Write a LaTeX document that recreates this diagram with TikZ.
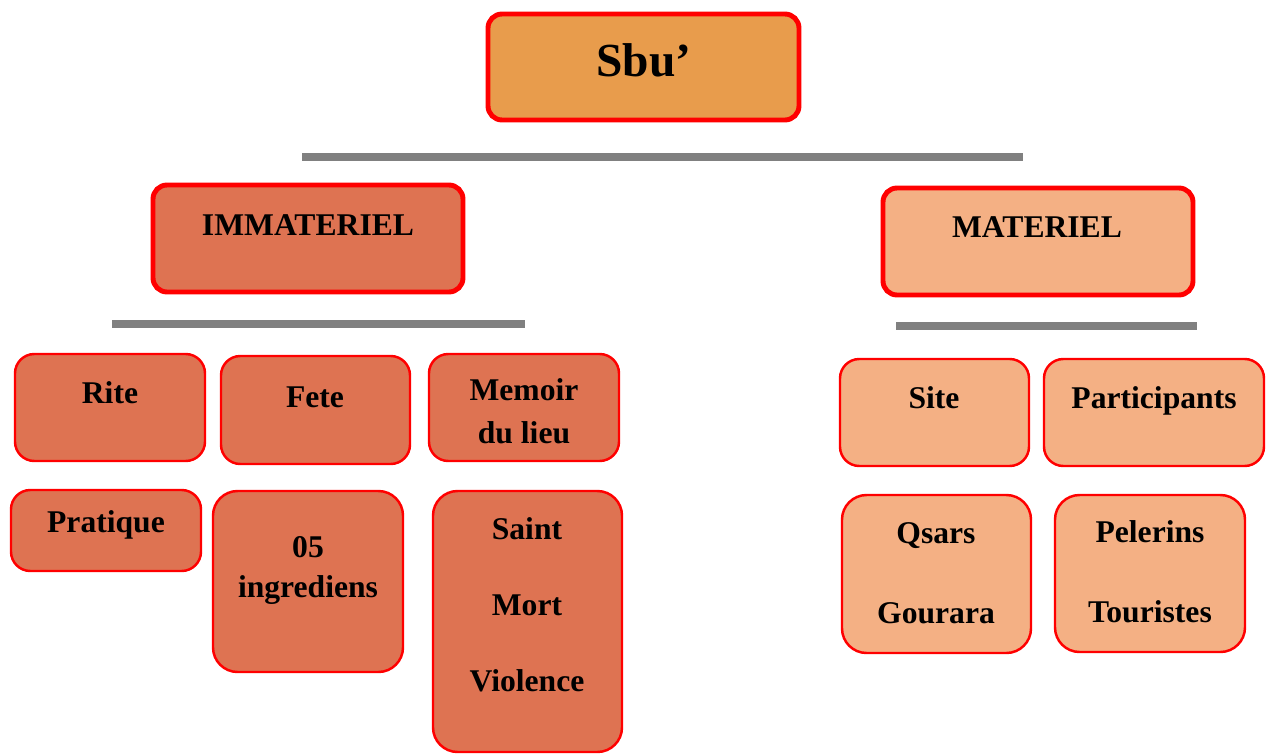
\documentclass[tikz,border=0pt]{standalone}
\usepackage{fontspec}
\setmainfont{Liberation Serif}
\usetikzlibrary{fit,positioning}
\definecolor{TopOrange}{HTML}{E89C4C}
\definecolor{DarkCoral}{HTML}{DE7352}
\definecolor{LightPeach}{HTML}{F4B084}
\definecolor{BorderRed}{HTML}{FF0000}
\definecolor{BarGray}{HTML}{808080}
\tikzset{
  % Base box
  BX/.style={rectangle,draw=BorderRed,inner sep=0pt,
             rounded corners=11pt,line width=1.4pt},
  % Heading box
  HB/.style={BX,line width=2.8pt,rounded corners=8pt},
  % Colour variants
  nO/.style={HB,fill=TopOrange},
  nD/.style={HB,fill=DarkCoral},
  nL/.style={HB,fill=LightPeach},
  bD/.style={BX,fill=DarkCoral},
  bL/.style={BX,fill=LightPeach},
  % Text style (base = baseline of the last line)
  TX/.style={anchor=base,align=center,inner sep=0pt,
             font=\fontsize{18}{22}\selectfont\bfseries},
  % Separator bar
  bar/.style={line width=4pt,draw=BarGray}
}
\begin{document}
\begin{tikzpicture}[x=0.02cm,y=-0.02cm]
  \useasboundingbox (0,0) rectangle (1269,754);
  % top level
  \node[nO,fit={(488,14)(799,120)}] (sbu) {};
  \node[TX,font=\fontsize{27}{32}\selectfont\bfseries] (sbu-t) at (644,76) {Sbu’};
  \draw[bar] (302,157) -- (1023,157);
  % two branches
  \node[nD,fit={(153,185)(463,292)}] (immat) {};
  \node[TX] (immat-t) at (308,235) {IMMATERIEL};
  \node[nL,fit={(883,188)(1193,295)}] (mat) {};
  \node[TX] (mat-t) at (1037,237) {MATERIEL};
  \draw[bar] (112,324) -- (525,324);
  \draw[bar] (896,326) -- (1197,326);
  % immateriel items
  \node[bD,fit={(15,354)(205,461)}] (rite) {};
  \node[TX] (rite-t) at (110,403) {Rite};
  \node[bD,fit={(221,356)(410,464)}] (fete) {};
  \node[TX] (fete-t) at (315,407) {Fete};
  \node[bD,fit={(429,354)(619,461)}] (memoir) {};
  \node[TX] (memoir-t) at (524,443) {Memoir\\[2.4pt]du lieu};
  \node[bD,fit={(11,490)(201,571)}] (prat) {};
  \node[TX] (prat-t) at (106,532) {Pratique};
  \node[bD,rounded corners=14pt,fit={(213,491)(403,672)}] (ingr) {};
  \node[TX] (ingr-t) at (308,597) {05\\[0.7pt]ingrediens};
  \node[bD,rounded corners=14pt,fit={(433,491)(622,752)}] (saint) {};
  \node[TX] (saint-t) at (527,691) {Saint\\[21pt]Mort\\[21pt]Violence};
  % materiel items
  \node[bL,fit={(840,359)(1029,466)}] (site) {};
  \node[TX] (site-t) at (934,408) {Site};
  \node[bL,fit={(1044,359)(1264,466)}] (part) {};
  \node[TX] (part-t) at (1154,408) {Participants};
  \node[bL,rounded corners=14pt,fit={(842,495)(1031,653)}] (qsars) {};
  \node[TX] (qsars-t) at (936,623) {Qsars\\[23.4pt]Gourara};
  \node[bL,rounded corners=14pt,fit={(1055,495)(1245,652)}] (pel) {};
  \node[TX] (pel-t) at (1150,622) {Pelerins\\[23.4pt]Touristes};
\end{tikzpicture}
\end{document}
